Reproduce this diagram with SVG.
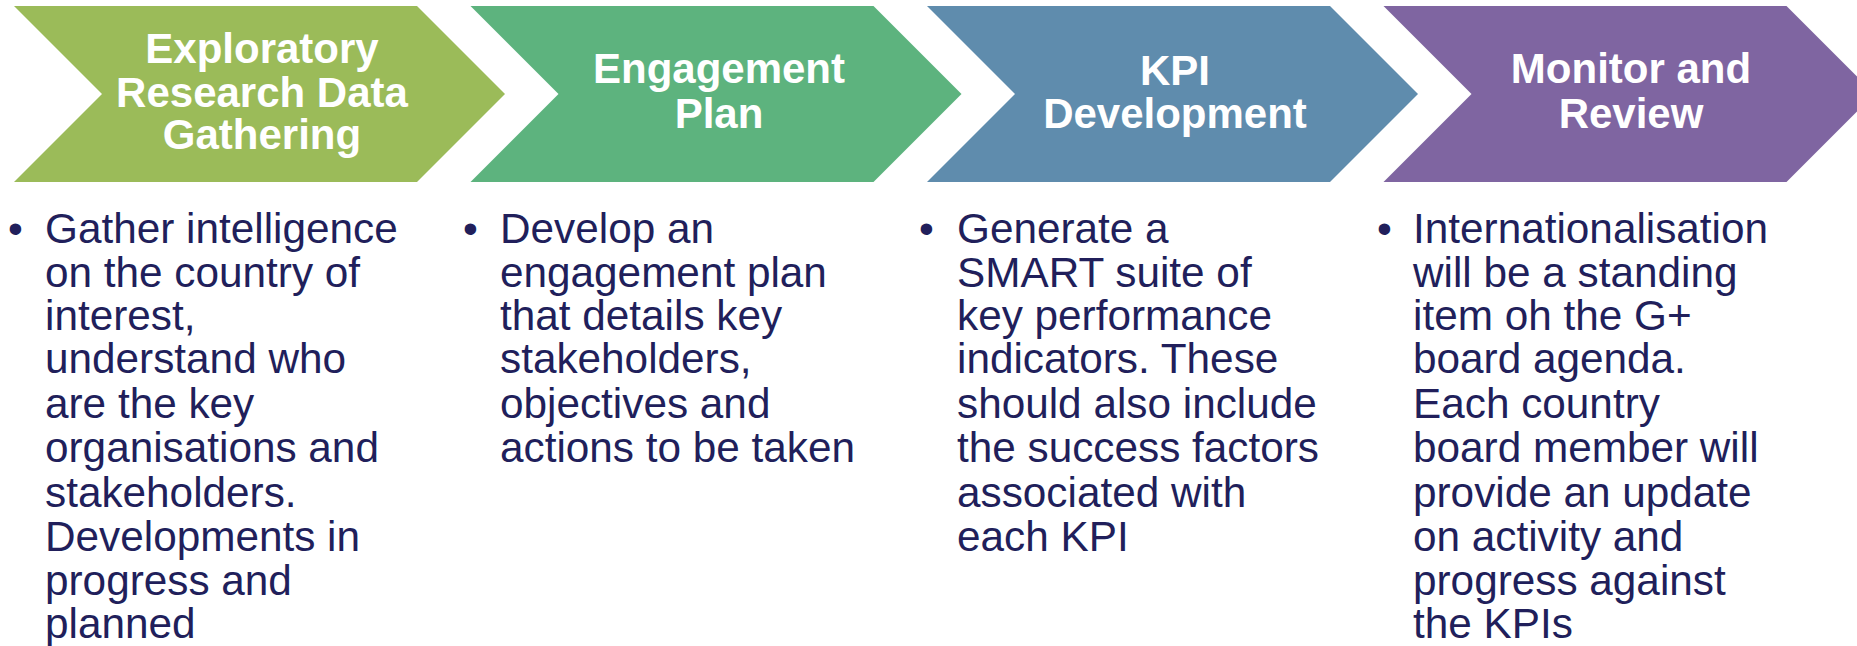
<svg xmlns="http://www.w3.org/2000/svg" width="1857" height="646" viewBox="0 0 1857 646">
<style>
.title{font-family:"Liberation Sans",Arial,sans-serif;font-weight:bold;font-size:42px;fill:#ffffff;text-anchor:middle}
.body{font-family:"Liberation Sans",Arial,sans-serif;font-size:42.3px;fill:#211F5B}
</style>
<rect width="1857" height="646" fill="#ffffff"/>
<g id="step1">
<polygon points="14,6 417,6 505,94 417,182 14,182 102,94" fill="#9BBB59"/>
<text class="title" x="262"><tspan x="262" y="63">Exploratory</tspan><tspan x="262" y="107">Research Data</tspan><tspan x="262" y="149">Gathering</tspan></text>
</g>
<g id="step2">
<polygon points="470.5,6 873.5,6 961.5,94 873.5,182 470.5,182 558.5,94" fill="#5DB37E"/>
<text class="title" x="719"><tspan x="719" y="83">Engagement</tspan><tspan x="719" y="128">Plan</tspan></text>
</g>
<g id="step3">
<polygon points="927,6 1330,6 1418,94 1330,182 927,182 1015,94" fill="#5F8CAD"/>
<text class="title" x="1175"><tspan x="1175" y="85">KPI</tspan><tspan x="1175" y="128">Development</tspan></text>
</g>
<g id="step4">
<polygon points="1383.5,6 1786.5,6 1874.5,94 1786.5,182 1383.5,182 1471.5,94" fill="#7F65A1"/>
<text class="title" x="1631"><tspan x="1631" y="83">Monitor and</tspan><tspan x="1631" y="128">Review</tspan></text>
</g>
<g id="desc1">
<text class="body" x="8" y="243">•</text>
<text class="body"><tspan x="45" y="243">Gather intelligence</tspan><tspan x="45" y="287">on the country of</tspan><tspan x="45" y="330">interest,</tspan><tspan x="45" y="373">understand who</tspan><tspan x="45" y="418">are the key</tspan><tspan x="45" y="462">organisations and</tspan><tspan x="45" y="507">stakeholders.</tspan><tspan x="45" y="551">Developments in</tspan><tspan x="45" y="595">progress and</tspan><tspan x="45" y="638">planned</tspan></text>
</g>
<g id="desc2">
<text class="body" x="463" y="243">•</text>
<text class="body"><tspan x="500" y="243">Develop an</tspan><tspan x="500" y="287">engagement plan</tspan><tspan x="500" y="330">that details key</tspan><tspan x="500" y="373">stakeholders,</tspan><tspan x="500" y="418">objectives and</tspan><tspan x="500" y="462">actions to be taken</tspan></text>
</g>
<g id="desc3">
<text class="body" x="919" y="243">•</text>
<text class="body"><tspan x="957" y="243">Generate a</tspan><tspan x="957" y="287">SMART suite of</tspan><tspan x="957" y="330">key performance</tspan><tspan x="957" y="373">indicators. These</tspan><tspan x="957" y="418">should also include</tspan><tspan x="957" y="462">the success factors</tspan><tspan x="957" y="507">associated with</tspan><tspan x="957" y="551">each KPI</tspan></text>
</g>
<g id="desc4">
<text class="body" x="1377" y="243">•</text>
<text class="body"><tspan x="1413" y="243">Internationalisation</tspan><tspan x="1413" y="287">will be a standing</tspan><tspan x="1413" y="330">item oh the G+</tspan><tspan x="1413" y="373">board agenda.</tspan><tspan x="1413" y="418">Each country</tspan><tspan x="1413" y="462">board member will</tspan><tspan x="1413" y="507">provide an update</tspan><tspan x="1413" y="551">on activity and</tspan><tspan x="1413" y="595">progress against</tspan><tspan x="1413" y="638">the KPIs</tspan></text>
</g>
<g id="connectors"></g>
</svg>
